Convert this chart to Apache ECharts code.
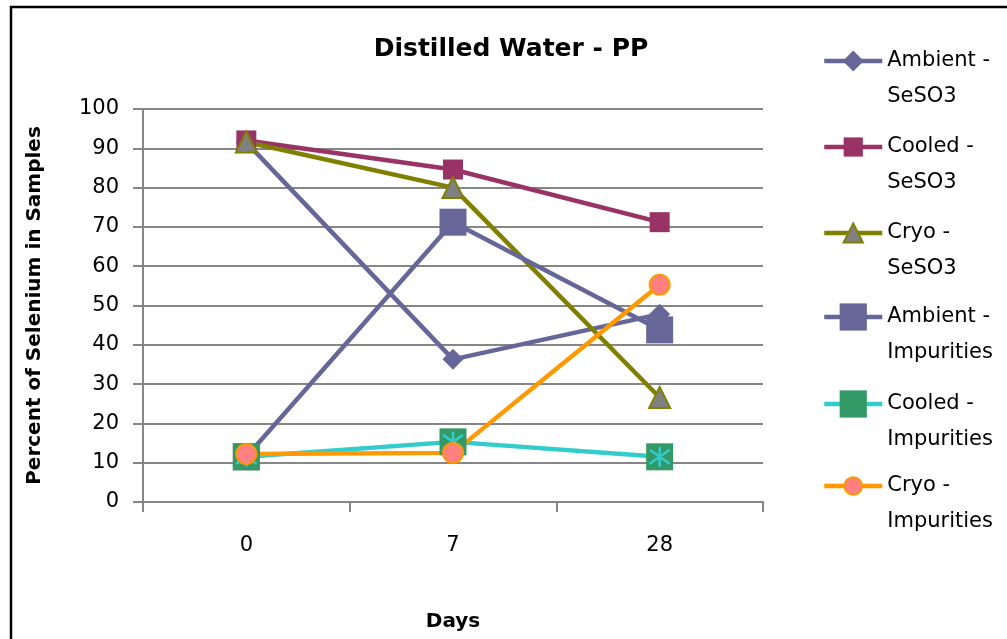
<!DOCTYPE html>
<html>
<head>
<meta charset="utf-8">
<script src="https://cdn.jsdelivr.net/npm/echarts@6/dist/echarts.min.js"></script>
<style>html,body{margin:0;padding:0;background:#fff}#c{width:1007px;height:639px}</style>
</head>
<body>
<div id="c"></div>
<script>
const categories = ['0', '7', '28'];
const yTicks = [0, 100, 10];
const ambientSeSO3 = [91.5, 36.3, 47.8];
const cooledSeSO3 = [92, 84.6, 71.2];
const cryoSeSO3 = [91.6, 80, 26.6];
const ambientImp = [11.5, 71.2, 43.8];
const cooledImp = [11.5, 15.3, 11.5];
const cryoImp = [12.2, 12.5, 55.3];

const FONT = 'DejaVu Sans';
const AX = '#868686';
const LW = 4.5;
const chart = echarts.init(document.getElementById('c'));

function legendAt(name, centerY, h) {
  return {
    data: [name], orient: 'vertical', left: 822, top: centerY - 52,
    padding: 0, itemWidth: 58, itemHeight: h, selectedMode: false,
    lineStyle: { width: LW },
    textStyle: { fontFamily: FONT, fontSize: 21, color: '#000', lineHeight: 36 },
    formatter: n => '\n' + n.replace(' - ', ' -\n')
  };
}

chart.setOption({
  animation: false,
  backgroundColor: '#fff',
  title: { text: 'Distilled Water - PP', left: 506, top: 32, textAlign: 'center',
    textStyle: { fontFamily: FONT, fontWeight: 'bold', fontSize: 25, color: '#000' } },
  graphic: [{ type: 'rect', shape: { x: 11, y: 7, width: 1100, height: 1000 },
    style: { fill: 'none', stroke: '#000', lineWidth: 2.5 }, silent: true }],
  legend: [
    legendAt('Ambient - SeSO3', 59, 26),
    legendAt('Cooled - SeSO3', 145, 24),
    legendAt('Cryo - SeSO3', 231, 24),
    legendAt('Ambient - Impurities', 315, 34),
    legendAt('Cooled - Impurities', 402, 34),
    legendAt('Cryo - Impurities', 484, 22)
  ],
  grid: { left: 143, top: 109, width: 620, height: 393 },
  xAxis: {
    type: 'category', data: categories, boundaryGap: true,
    name: 'Days', nameLocation: 'middle', nameGap: 110,
    nameTextStyle: { fontFamily: FONT, fontWeight: 'bold', fontSize: 20, color: '#000' },
    axisLine: { lineStyle: { color: AX, width: 2 } },
    axisTick: { show: true, length: 10, lineStyle: { color: AX, width: 2 } },
    axisLabel: { fontFamily: FONT, fontSize: 21, color: '#000', margin: 33 },
    splitLine: { show: false }
  },
  yAxis: {
    type: 'value', min: yTicks[0], max: yTicks[1], interval: yTicks[2],
    name: 'Percent of Selenium in Samples', nameLocation: 'middle', nameGap: 98,
    nameTextStyle: { fontFamily: FONT, fontWeight: 'bold', fontSize: 20, color: '#000' },
    axisLine: { show: true, lineStyle: { color: AX, width: 2 } },
    axisTick: { show: true, length: 10, lineStyle: { color: AX, width: 2 } },
    axisLabel: { fontFamily: FONT, fontSize: 21, color: '#000', margin: 24 },
    splitLine: { lineStyle: { color: AX, width: 2 } }
  },
  series: [
    { name: 'Ambient - SeSO3', type: 'line', data: ambientSeSO3, symbol: 'diamond', symbolSize: 21,
      lineStyle: { color: '#666699', width: LW }, itemStyle: { color: '#666699' } },
    { name: 'Cooled - SeSO3', type: 'line', data: cooledSeSO3, symbol: 'rect', symbolSize: 20,
      lineStyle: { color: '#993366', width: LW }, itemStyle: { color: '#993366' } },
    { name: 'Cryo - SeSO3', type: 'line', data: cryoSeSO3, symbol: 'triangle', symbolSize: 21,
      lineStyle: { color: '#808000', width: LW },
      itemStyle: { color: '#808080', borderColor: '#808000', borderWidth: 2 } },
    { name: 'Ambient - Impurities', type: 'line', data: ambientImp, symbol: 'rect', symbolSize: 27,
      lineStyle: { color: '#666699', width: LW }, itemStyle: { color: '#666699' } },
    { name: 'Cooled - Impurities', type: 'line', data: cooledImp, symbol: 'rect', symbolSize: 27,
      lineStyle: { color: '#33CCCC', width: LW }, itemStyle: { color: '#339966' } },
    { name: 'Cooled - Impurities', type: 'line', data: cooledImp,
      symbol: 'path://M50,0L50,100M10,15L90,85M90,15L10,85', symbolSize: 20,
      lineStyle: { width: 0, opacity: 0 },
      itemStyle: { color: 'rgba(0,0,0,0)', borderColor: '#33CCCC', borderWidth: 2.5 } },
    { name: 'Cryo - Impurities', type: 'line', data: cryoImp, symbol: 'circle', symbolSize: 20,
      lineStyle: { color: '#FF9900', width: LW },
      itemStyle: { color: '#FF8080', borderColor: '#FF9900', borderWidth: 2 } }
  ]
});
</script>
</body>
</html>
